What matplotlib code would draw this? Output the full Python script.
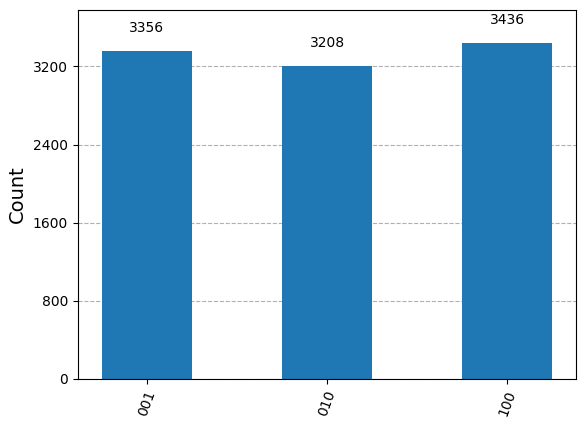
import matplotlib
matplotlib.use("Agg")
import matplotlib.pyplot as plt
import numpy as np

states = ["001", "010", "100"]
counts = [3356, 3208, 3436]
yticks = [0, 800, 1600, 2400, 3200]

fig, ax = plt.subplots(figsize=(5.85, 4.28), dpi=100)
fig.subplots_adjust(left=0.133, right=0.985, top=0.977, bottom=0.115)

x = np.arange(len(states))
bars = ax.bar(x, counts, width=0.5, color="#1f77b4", zorder=2)
for b, c in zip(bars, counts):
    ax.text(b.get_x() + b.get_width() / 2, 1.05 * c, str(c),
            ha="center", va="bottom", fontsize=10)

ax.set_xticks(x)
ax.set_xticklabels(states, rotation=70, fontsize=10)
ax.set_yticks(yticks)
ax.set_ylim(0, 1.1 * max(counts))
ax.set_xlim(-0.383, 2.383)
ax.set_ylabel("Count", fontsize=14)
ax.grid(axis="y", linestyle="--", color="#b0b0b0", zorder=0)
ax.set_axisbelow(True)

fig.savefig("out.png", dpi=100)
